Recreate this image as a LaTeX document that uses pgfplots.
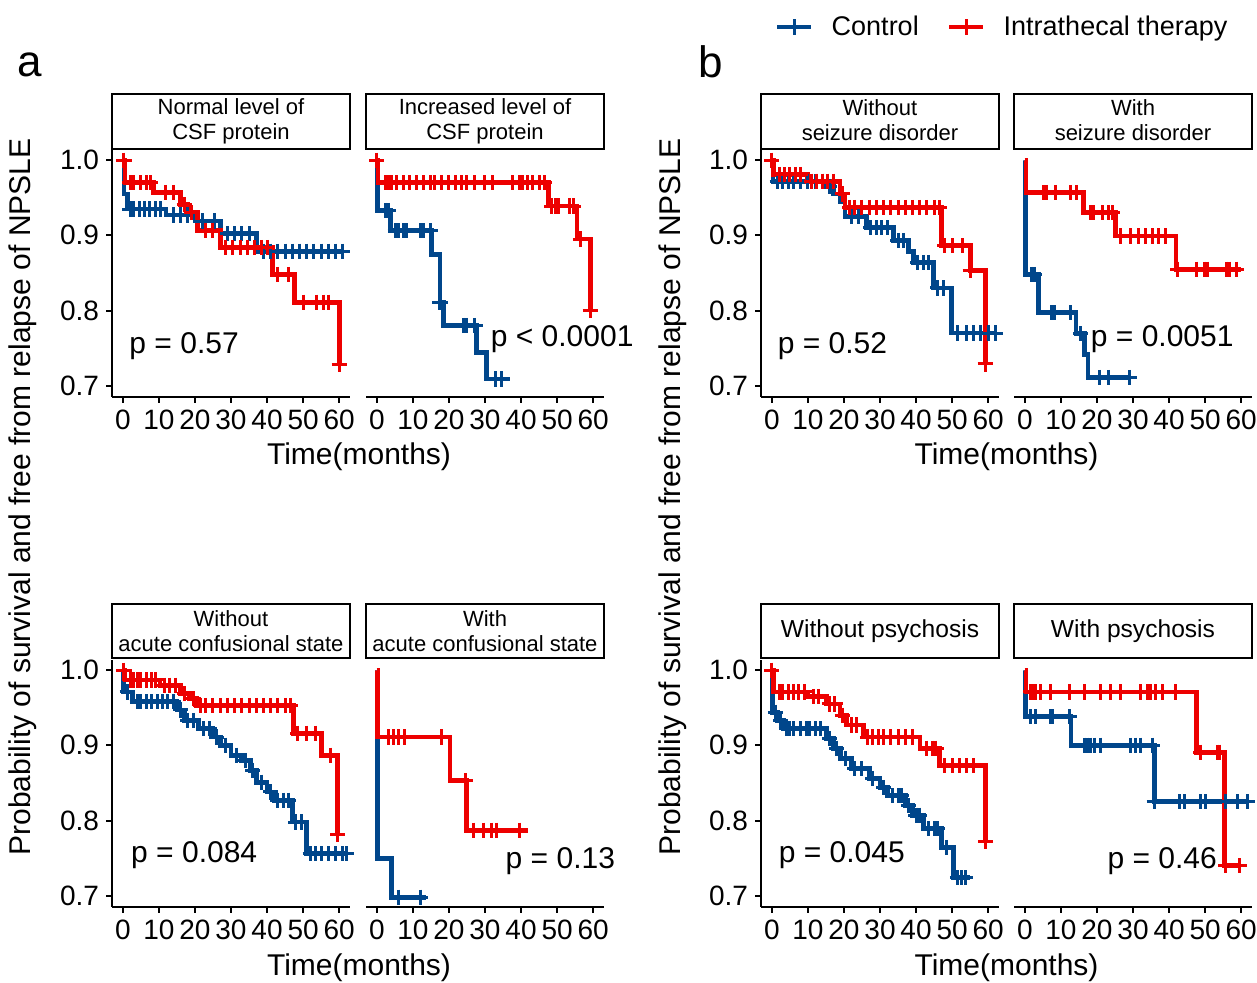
\documentclass[border=0pt]{standalone}
\usepackage{pgfplots}
\pgfplotsset{compat=1.18}
\usepackage{fontspec}
\setmainfont{Liberation Sans}
\definecolor{ctrl}{HTML}{00468B}
\definecolor{itt}{HTML}{ED0000}
\pgfplotsset{
  km/.style={const plot, no marks, line width=2.4pt},
  cens/.style={only marks, mark=+, mark size=3.8pt, mark options={line width=1.5pt}},
  panel/.style={scale only axis, width=119pt, height=123.5pt, anchor=south west,
    xmin=-3, xmax=63, ymin=0.685, ymax=1.0135,
    xtick={0,10,...,60}, ytick={0.7,0.8,0.9,1.0},
    axis x line*=bottom, clip=false, tick align=outside, major tick length=3pt,
    axis line style={line width=1pt, black}, tick style={black, line width=1pt},
    tick label style={font=\fontsize{14}{16}\selectfont},
    /pgf/number format/assume math mode=true,
    yticklabel style={/pgf/number format/fixed, /pgf/number format/fixed zerofill, /pgf/number format/precision=1}},
  lp/.style={panel, axis y line*=left},
  rp/.style={panel, axis y line=none},
}
\newcommand\pv{\fontsize{15}{18}\selectfont}
\newcommand\st{\fontsize{11}{12.5}\selectfont}
\begin{document}
\begin{tikzpicture}
\useasboundingbox (0,0) rectangle (628.5pt,491.5pt);

% ---- a: normal CSF protein
\begin{axis}[lp, at={(56pt,293pt)}]
\addplot[km, ctrl] coordinates {(0,1) (0.3,0.955) (1.2,0.935) (12,0.927) (20,0.919) (27,0.902) (37,0.879) (61,0.879)};
\addplot[cens, ctrl] coordinates {(2,0.935) (3,0.935) (4.5,0.935) (6,0.935) (7.5,0.935) (9,0.935) (10.5,0.935) (14,0.927) (16,0.927) (18,0.927) (22,0.919) (25.5,0.919) (29,0.902) (31,0.902) (33,0.902) (35,0.902) (39,0.879) (41,0.879) (43,0.879) (45,0.879) (47,0.879) (49,0.879) (51,0.879) (53,0.879) (55,0.879) (57,0.879) (59,0.879) (61,0.879)};
\addplot[km, itt] coordinates {(0,1) (0.6,0.970) (8.6,0.957) (16,0.941) (18,0.93) (20.6,0.906) (27,0.884) (41.6,0.848) (47.6,0.811) (60,0.728)};
\addplot[cens, itt] coordinates {(0.3,1) (2,0.97) (2.9,0.97) (4.8,0.97) (6.7,0.97) (7.6,0.97) (11.8,0.957) (14,0.957) (17,0.941) (19,0.93) (23,0.906) (25,0.906) (28.5,0.884) (30.5,0.884) (32.5,0.884) (34.5,0.884) (36.5,0.884) (38.5,0.884) (40,0.884) (43,0.848) (46,0.848) (50,0.811) (53.7,0.811) (55.6,0.811) (57,0.811) (60,0.728)};
\node[font=\pv] at (axis cs:17,0.753) {p = 0.57};
\end{axis}

% ---- a: increased CSF protein
\begin{axis}[rp, at={(183pt,293pt)}]
\addplot[km, ctrl] coordinates {(0,1) (0.1,0.933) (3.7,0.906) (15.2,0.875) (17.5,0.811) (18.4,0.78) (27.7,0.744) (30.5,0.709) (36.9,0.709)};
\addplot[cens, ctrl] coordinates {(2.3,0.933) (3.2,0.933) (5.1,0.906) (6,0.906) (7.4,0.906) (8.3,0.906) (12,0.906) (12.9,0.906) (14.8,0.906) (17.5,0.811) (24,0.78) (24.9,0.78) (27.2,0.78) (32.8,0.709) (34.6,0.709)};
\addplot[km, itt] coordinates {(0,1) (0.3,0.970) (47.5,0.939) (55.5,0.895) (59.2,0.80)};
\addplot[cens, itt] coordinates {(0,1) (2.3,0.97) (3.2,0.97) (4.2,0.97) (5.5,0.97) (7.4,0.97) (9.2,0.97) (11,0.97) (12.9,0.97) (14.8,0.97) (16.1,0.97) (18,0.97) (19.8,0.97) (21.7,0.97) (23.5,0.97) (24.9,0.97) (27.2,0.97) (29.9,0.97) (32.2,0.97) (37.7,0.97) (39.6,0.97) (40.5,0.97) (41.9,0.97) (43.3,0.97) (45.2,0.97) (46.6,0.97) (48.5,0.939) (49.5,0.939) (50.5,0.939) (53.5,0.939) (54.5,0.939) (56.5,0.895) (59.2,0.80)};
\node[font=\pv] at (axis cs:51.4,0.762) {p < 0.0001};
\end{axis}

% ---- b: without seizure disorder
\begin{axis}[lp, at={(380.5pt,293pt)}]
\addplot[km, ctrl] coordinates {(0,1) (0.3,0.972) (15,0.965) (17,0.955) (19,0.945) (20.3,0.925) (26.3,0.910) (33.7,0.893) (38,0.879) (39.3,0.864) (44.8,0.83) (49.8,0.77) (61.9,0.77)};
\addplot[cens, ctrl] coordinates {(1.5,0.972) (3,0.972) (4.5,0.972) (6,0.972) (8,0.972) (10,0.972) (12,0.972) (14,0.972) (16,0.965) (22,0.925) (24,0.925) (27.5,0.91) (29,0.91) (30.5,0.91) (32,0.91) (35,0.893) (36.5,0.893) (40.5,0.864) (42,0.864) (43.5,0.864) (46,0.83) (47.5,0.83) (51.5,0.77) (54,0.77) (56,0.77) (58,0.77) (60,0.77) (61.9,0.77)};
\addplot[km, itt] coordinates {(0,1) (0.5,0.981) (10,0.972) (18.9,0.955) (20.3,0.937) (47.1,0.886) (55,0.853) (59.2,0.729)};
\addplot[cens, itt] coordinates {(0,1) (2,0.981) (3.5,0.981) (5,0.981) (6.5,0.981) (8,0.981) (11,0.972) (12.5,0.972) (14,0.972) (15.5,0.972) (17,0.972) (19.5,0.955) (21.5,0.937) (23,0.937) (25,0.937) (27,0.937) (29,0.937) (31,0.937) (33,0.937) (35,0.937) (37,0.937) (39,0.937) (41,0.937) (43,0.937) (45,0.937) (46.5,0.937) (48,0.886) (50,0.886) (53,0.886) (55,0.853) (59.2,0.729)};
\node[font=\pv] at (axis cs:16.8,0.753) {p = 0.52};
\end{axis}

% ---- b: with seizure disorder (holds the legend)
\begin{axis}[rp, at={(507pt,293pt)},
  legend style={at={(-0.046,1.498)}, anchor=center, draw=none, fill=none, legend columns=2,
    font=\fontsize{13.5}{16}\selectfont,
    /tikz/every odd column/.append style={column sep=7pt},
    /tikz/every even column/.append style={column sep=12pt}}]
\addplot[km, ctrl, forget plot] coordinates {(0,1) (0.2,0.848) (3.7,0.797) (14.2,0.769) (16.5,0.742) (17.5,0.711) (29.5,0.711)};
\addplot[cens, ctrl, forget plot] coordinates {(1.8,0.848) (2.6,0.848) (7.3,0.797) (8.3,0.797) (12.6,0.797) (15.5,0.769) (20.7,0.711) (23.3,0.711) (28.9,0.711)};
\addplot[km, itt, forget plot] coordinates {(0,1) (0.3,0.957) (16.3,0.93) (25.1,0.899) (41.9,0.855) (60,0.855)};
\addplot[cens, itt, forget plot] coordinates {(5.1,0.957) (6.1,0.957) (8.4,0.957) (12.6,0.957) (14.4,0.957) (18.2,0.93) (19.1,0.93) (21.4,0.93) (23.3,0.93) (24.2,0.93) (26.5,0.899) (29.3,0.899) (31.6,0.899) (33.5,0.899) (35.4,0.899) (37.2,0.899) (39.1,0.899) (42.4,0.855) (47.5,0.855) (49.8,0.855) (50.7,0.855) (55.9,0.855) (56.8,0.855) (58.7,0.855)};
\node[font=\pv] at (axis cs:38.1,0.762) {p = 0.0051};
\addlegendimage{ctrl, line width=2.4pt, mark=+, mark size=3.8pt, mark options={line width=1.5pt}}
\addlegendentry{Control}
\addlegendimage{itt, line width=2.4pt, mark=+, mark size=3.8pt, mark options={line width=1.5pt}}
\addlegendentry{Intrathecal therapy}
\end{axis}

% ---- a: without acute confusional state
\begin{axis}[lp, at={(56pt,38pt)}]
\addplot[km, ctrl] coordinates {(0,1) (0.2,0.971) (2.6,0.958) (15,0.947) (17,0.933) (21,0.922) (25,0.911) (27,0.9) (30,0.887) (33,0.88) (35.5,0.867) (37,0.851) (40,0.838) (42,0.827) (47,0.798) (51,0.756) (62,0.756)};
\addplot[cens, ctrl] coordinates {(1.2,0.971) (4,0.958) (5,0.958) (6.5,0.958) (8,0.958) (9.5,0.958) (11,0.958) (12.5,0.958) (14,0.958) (16,0.947) (18,0.933) (19.5,0.933) (22.5,0.922) (24,0.922) (26,0.911) (28.5,0.9) (31.5,0.887) (34,0.88) (36,0.867) (38.5,0.851) (41,0.838) (43,0.827) (44.5,0.827) (46,0.827) (48,0.798) (49.5,0.798) (52,0.756) (53.5,0.756) (55,0.756) (57,0.756) (59,0.756) (61,0.756) (62,0.756)};
\addplot[km, itt] coordinates {(0,1) (0.6,0.987) (10.3,0.98) (15.9,0.969) (18.6,0.962) (20.5,0.953) (47.3,0.916) (55.2,0.887) (59.6,0.782)};
\addplot[cens, itt] coordinates {(0.3,1) (2,0.987) (3,0.987) (4,0.987) (5,0.987) (6.5,0.987) (8,0.987) (9,0.987) (11.5,0.98) (13,0.98) (14.5,0.98) (17,0.969) (19.5,0.962) (21.5,0.953) (23,0.953) (25,0.953) (27,0.953) (29,0.953) (31,0.953) (33,0.953) (35,0.953) (37,0.953) (39,0.953) (41,0.953) (43,0.953) (45,0.953) (46.5,0.953) (48.5,0.916) (51,0.916) (53.5,0.916) (57.5,0.887) (59.6,0.782)};
\node[font=\pv] at (axis cs:19.8,0.754) {p = 0.084};
\end{axis}

% ---- a: with acute confusional state
\begin{axis}[rp, at={(183pt,38pt)}]
\addplot[km, ctrl] coordinates {(0,1) (0.1,0.749) (4.1,0.698) (13.5,0.698)};
\addplot[cens, ctrl] coordinates {(6,0.698) (12,0.698)};
\addplot[km, itt] coordinates {(0,1) (0.2,0.911) (20.3,0.853) (24.9,0.787) (41.9,0.787)};
\addplot[cens, itt] coordinates {(3.2,0.911) (4.6,0.911) (6,0.911) (7.8,0.911) (18,0.911) (24.5,0.853) (26.8,0.787) (29.5,0.787) (31.9,0.787) (33.2,0.787) (39.7,0.787)};
\node[font=\pv] at (axis cs:50.9,0.746) {p = 0.13};
\end{axis}

% ---- b: without psychosis
\begin{axis}[lp, at={(380.5pt,38pt)}]
\addplot[km, ctrl] coordinates {(0,1) (0.2,0.944) (1.5,0.933) (3.2,0.922) (15.2,0.909) (17,0.896) (19,0.882) (22,0.869) (27,0.856) (30,0.844) (32,0.833) (37,0.82) (39,0.807) (42,0.789) (47,0.764) (50.3,0.724) (55,0.724)};
\addplot[cens, ctrl] coordinates {(1,0.944) (2.5,0.933) (4,0.922) (5,0.922) (6,0.922) (8,0.922) (9.5,0.922) (10.5,0.922) (12,0.922) (13.5,0.922) (16,0.909) (18,0.896) (20.5,0.882) (23,0.869) (25,0.869) (28,0.856) (31,0.844) (33.5,0.833) (35,0.833) (36,0.833) (38,0.82) (40,0.807) (41,0.807) (43.5,0.789) (45,0.789) (46,0.789) (48.5,0.764) (51.5,0.724) (52.5,0.724) (53.7,0.724)};
\addplot[km, itt] coordinates {(0,1) (0.5,0.971) (10,0.965) (15.2,0.955) (18.9,0.94) (20.7,0.927) (25.4,0.911) (41.1,0.896) (46.6,0.873) (59.3,0.772)};
\addplot[cens, itt] coordinates {(0,1) (2,0.971) (3,0.971) (4.5,0.971) (6,0.971) (7.5,0.971) (9,0.971) (11.5,0.965) (13,0.965) (16,0.955) (17.5,0.955) (19.5,0.94) (22,0.927) (23.5,0.927) (26.5,0.911) (28,0.911) (29.5,0.911) (31,0.911) (33,0.911) (35,0.911) (37,0.911) (39,0.911) (43,0.896) (44.5,0.896) (45.5,0.896) (48,0.873) (50,0.873) (52,0.873) (54,0.873) (56,0.873) (59.3,0.772)};
\node[font=\pv] at (axis cs:19.4,0.754) {p = 0.045};
\end{axis}

% ---- b: with psychosis
\begin{axis}[rp, at={(507pt,38pt)}]
\addplot[km, ctrl] coordinates {(0,1) (0.2,0.938) (12.8,0.90) (35.9,0.825) (61.7,0.825)};
\addplot[cens, ctrl] coordinates {(1.7,0.938) (3,0.938) (7.2,0.938) (7.7,0.938) (12.3,0.938) (16.5,0.90) (17.4,0.90) (18.3,0.90) (19.2,0.90) (21.1,0.90) (29.4,0.90) (30.8,0.90) (32.2,0.90) (35.4,0.90) (35.9,0.825) (42.8,0.825) (44.2,0.825) (48.8,0.825) (50.2,0.825) (55.7,0.825) (59,0.825) (61.7,0.825)};
\addplot[km, itt] coordinates {(0,1) (0.3,0.971) (47.7,0.891) (55.3,0.74) (59.9,0.74)};
\addplot[cens, itt] coordinates {(1.7,0.971) (2.3,0.971) (3,0.971) (4.4,0.971) (7.2,0.971) (12.3,0.971) (16.5,0.971) (21.1,0.971) (23.8,0.971) (26.6,0.971) (32.2,0.971) (34,0.971) (34.9,0.971) (36.3,0.971) (38.2,0.971) (41.9,0.971) (48.8,0.891) (53.4,0.891) (53.9,0.891) (55.7,0.74) (59.4,0.74)};
\node[font=\pv] at (axis cs:38.1,0.746) {p = 0.46};
\end{axis}

% ---- facet strips
\tikzset{strip/.style={draw=black, line width=1pt, fill=white}}
\draw[strip] (56pt,417pt) rectangle (175pt,444.5pt);
\draw[strip] (183pt,417pt) rectangle (302pt,444.5pt);
\draw[strip] (380.5pt,417pt) rectangle (499.5pt,444.5pt);
\draw[strip] (507pt,417pt) rectangle (626pt,444.5pt);
\draw[strip] (56pt,162.5pt) rectangle (175pt,189.5pt);
\draw[strip] (183pt,162.5pt) rectangle (302pt,189.5pt);
\draw[strip] (380.5pt,162.5pt) rectangle (499.5pt,189.5pt);
\draw[strip] (507pt,162.5pt) rectangle (626pt,189.5pt);
\node[font=\st, align=center] at (115.5pt,430.75pt) {Normal level of\\CSF protein};
\node[font=\st, align=center] at (242.5pt,430.75pt) {Increased level of\\CSF protein};
\node[font=\st, align=center] at (440pt,431.5pt) {Without\\seizure disorder};
\node[font=\st, align=center] at (566.5pt,431.5pt) {With\\seizure disorder};
\node[font=\st, align=center] at (115.5pt,176pt) {Without\\acute confusional state};
\node[font=\st, align=center] at (242.5pt,176pt) {With\\acute confusional state};
\node[font=\fontsize{12.3}{14}\selectfont] at (440pt,176pt) {Without psychosis};
\node[font=\fontsize{12.3}{14}\selectfont] at (566.5pt,176pt) {With psychosis};

% ---- shared labels
\node[rotate=90, font=\pv] at (11.5pt,243pt) {Probability of survival and free from relapse of NPSLE};
\node[rotate=90, font=\pv] at (336.5pt,243pt) {Probability of survival and free from relapse of NPSLE};
\node[font=\pv] at (179.5pt,263pt) {Time(months)};
\node[font=\pv] at (503.25pt,263pt) {Time(months)};
\node[font=\pv] at (179.5pt,7.5pt) {Time(months)};
\node[font=\pv] at (503.25pt,7.5pt) {Time(months)};
\node[font=\fontsize{22}{26}\selectfont] at (15pt,459pt) {a};
\node[font=\fontsize{22}{26}\selectfont] at (355.5pt,460.5pt) {b};
\end{tikzpicture}
\end{document}
